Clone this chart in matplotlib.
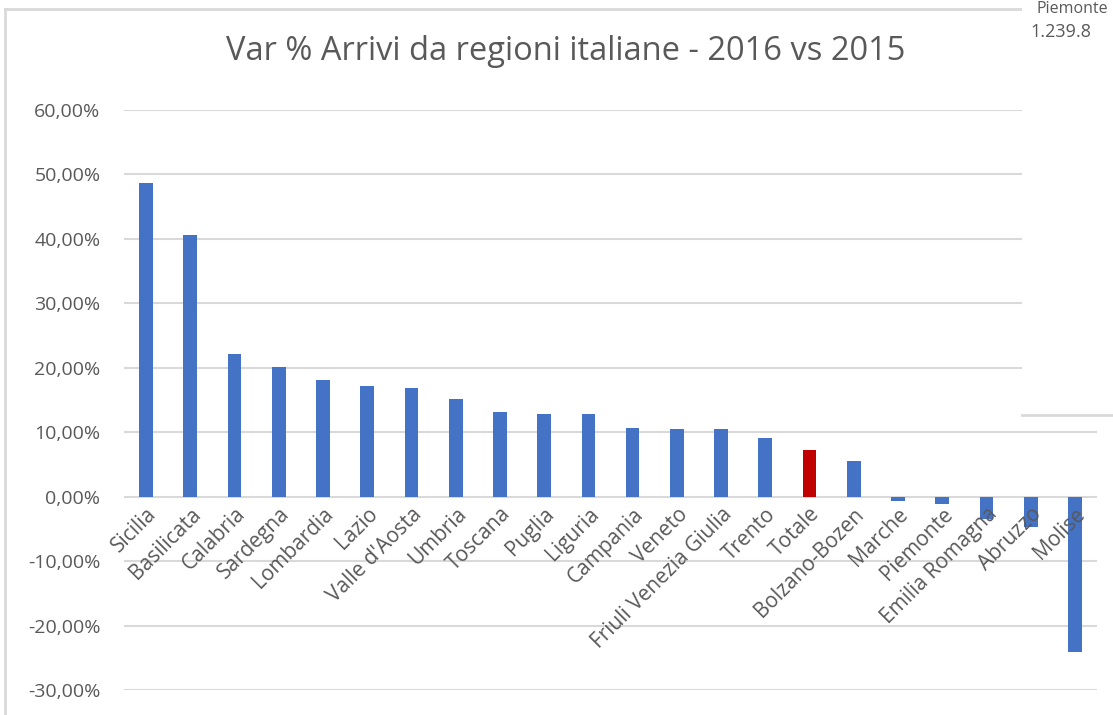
import matplotlib.pyplot as plt
from matplotlib.lines import Line2D
from matplotlib.patches import Rectangle
from matplotlib.ticker import FuncFormatter

plt.rcParams['font.family'] = ['Open Sans', 'DejaVu Sans']

# Data
regions = ["Sicilia", "Basilicata", "Calabria", "Sardegna", "Lombardia", "Lazio",
           "Valle d'Aosta", "Umbria", "Toscana", "Puglia", "Liguria", "Campania",
           "Veneto", "Friuli Venezia Giulia", "Trento", "Totale", "Bolzano-Bozen",
           "Marche", "Piemonte", "Emilia Romagna", "Abruzzo", "Molise"]
var_pct = [0.487, 0.406, 0.221, 0.201, 0.181, 0.172,
           0.169, 0.151, 0.131, 0.129, 0.128, 0.107,
           0.105, 0.105, 0.091, 0.072, 0.056,
           -0.007, -0.012, -0.035, -0.047, -0.241]
y_ticks = [-0.3, -0.2, -0.1, 0.0, 0.1, 0.2, 0.3, 0.4, 0.5, 0.6]

blue = "#4472c4"
red = "#c00000"
grey_txt = "#595959"
grid_col = "#d9d9d9"

colors = [red if r == "Totale" else blue for r in regions]

W, H = 1113, 715
fig = plt.figure(figsize=(W / 100, H / 100), dpi=100)
ax = fig.add_axes([124 / W, 1 - 690 / H, (1097 - 124) / W, (690 - 110) / H])

x = range(len(regions))
# gridlines drawn by hand so that bars sit above them and labels above bars
for t in y_ticks:
    ax.axhline(t, color=grid_col, linewidth=1.5, zorder=0)
ax.bar(x, var_pct, width=0.31, color=colors, zorder=1)

ax.set_xlim(-0.5, len(regions) - 0.5)
ax.set_ylim(-0.3, 0.6)
ax.set_yticks(y_ticks)
ax.yaxis.set_major_formatter(FuncFormatter(lambda v, p: f"{v * 100:.2f}%".replace(".", ",")))

for s in ["top", "right", "left"]:
    ax.spines[s].set_visible(False)
ax.spines["bottom"].set_position(("data", 0))
ax.spines["bottom"].set_visible(False)

ax.set_xticks(list(x))
ax.set_xticklabels(regions, rotation=45, ha="right", rotation_mode="anchor")
ax.tick_params(axis="x", length=0, pad=5, labelsize=15, labelcolor=grey_txt)
ax.tick_params(axis="y", length=0, pad=17, labelsize=14, labelcolor=grey_txt)
for lbl in ax.get_xticklabels():
    lbl.set_zorder(5)

fig.text(566 / W, 1 - 52 / H, "Var % Arrivi da regioni italiane - 2016 vs 2015",
         ha="center", va="center", fontsize=23.5, color=grey_txt)

# chart frame
fig.add_artist(Line2D([5 / W, 5 / W], [0, 1 - 9 / H], color=grid_col, lw=2))
fig.add_artist(Line2D([5 / W, 1022 / W], [1 - 9 / H, 1 - 9 / H], color=grid_col, lw=2))

# overlapping piece of another chart at the top right
fig.add_artist(Rectangle((1022 / W, 1 - 415 / H), (W - 1022) / W, 415 / H,
                         facecolor="white", edgecolor="none", zorder=10))
fig.add_artist(Line2D([1022 / W, 1], [1 - 415 / H, 1 - 415 / H], color=grid_col, lw=2, zorder=11))
fig.text(1036 / W, 1 - 13 / H, "Piemonte", fontsize=11.5, color=grey_txt, va="baseline", zorder=12)
fig.text(1030 / W, 1 - 37 / H, "1.239.8", fontsize=13, color=grey_txt, va="baseline", zorder=12)

fig.savefig("out.png", dpi=100)
